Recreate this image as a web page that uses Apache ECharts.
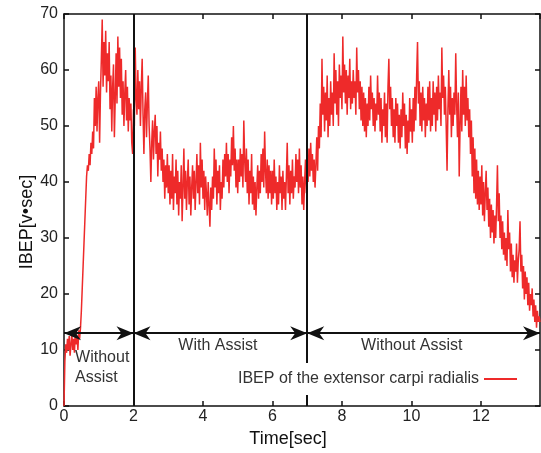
<!DOCTYPE html>
<html><head><meta charset="utf-8">
<script src="https://cdn.jsdelivr.net/npm/echarts@6/dist/echarts.min.js"></script>
<style>html,body{margin:0;padding:0;background:#fff}#c{width:541px;height:453px}</style>
</head><body><div id="c"></div>
<script>
const seriesName = 'IBEP of the extensor carpi radialis';
const xAxisName = 'Time[sec]';
const yAxisName = 'IBEP[v\u2022sec]';
const timeStep = 0.025; // seconds between samples
const ibep = [
  0, 8, 11, 9.5, 12, 10, 12.5, 9, 11, 13, 10, 12, 9.5, 13, 11, 12.5, 10, 13.5, 12, 14,
  17, 21, 25, 29, 33, 37, 41, 43, 42, 45, 43, 47, 45, 49, 46, 55, 50, 57, 49, 55,
  58, 47, 56, 62, 69, 57, 65, 59, 67, 56, 63, 58, 65, 53, 59, 49, 57, 61, 48, 55,
  63, 54, 66, 57, 64, 55, 62, 52, 58, 50, 56, 60, 51, 57, 49, 55, 51, 54, 47, 45,
  53, 50, 64, 55, 52, 60, 53, 58, 50, 57, 62, 52, 45, 53, 56, 48, 54, 59, 50, 46,
  40, 47, 51, 44, 49, 52, 45, 50, 41, 47, 44, 49, 42, 46, 40, 44, 37, 43, 39, 45,
  38, 43, 36, 42, 37, 45, 35, 41, 38, 44, 36, 42, 34, 40, 37, 43, 33, 39, 46, 37,
  42, 35, 40, 44, 36, 41, 34, 39, 43, 37, 42, 35, 40, 45, 38, 43, 36, 47, 39, 44,
  37, 42, 35, 41, 38, 34, 40, 36, 32, 39, 35, 41, 37, 46, 39, 44, 36, 42, 38, 43,
  35, 40, 37, 44, 39, 45, 41, 47, 40, 45, 38, 44, 41, 48, 43, 50, 42, 46, 39, 44,
  38, 44, 40, 46, 41, 45, 39, 51, 44, 40, 46, 38, 44, 36, 42, 38, 45, 36, 41, 35,
  40, 34, 39, 43, 37, 42, 38, 45, 40, 46, 39, 49, 42, 38, 44, 37, 43, 38, 42, 36,
  42, 37, 44, 38, 41, 35, 40, 36, 43, 38, 41, 35, 42, 37, 40, 35, 41, 47, 38, 43,
  36, 42, 38, 44, 37, 41, 39, 45, 40, 44, 38, 46, 39, 43, 36, 41, 35, 40, 44, 38,
  45, 40, 46, 41, 47, 42, 45, 40, 44, 39, 43, 48, 42, 50, 46, 54, 48, 62, 52, 57,
  49, 56, 51, 59, 48, 55, 50, 58, 52, 56, 50, 63, 54, 60, 52, 58, 50, 61, 55, 59,
  53, 66, 56, 61, 54, 60, 52, 59, 55, 62, 53, 58, 54, 60, 55, 58, 52, 64, 56, 60,
  53, 58, 51, 57, 50, 56, 49, 55, 48, 54, 50, 57, 51, 59, 53, 56, 50, 55, 49, 54,
  51, 59, 52, 56, 49, 55, 47, 53, 50, 56, 48, 54, 47, 57, 62, 53, 57, 50, 55, 48,
  53, 47, 55, 50, 54, 47, 52, 46, 53, 48, 56, 50, 54, 46, 52, 45, 51, 47, 55, 49,
  53, 47, 55, 49, 57, 51, 59, 65, 54, 58, 50, 56, 49, 57, 51, 55, 48, 54, 50, 57,
  51, 58, 49, 55, 50, 58, 52, 56, 49, 57, 51, 59, 53, 56, 50, 64, 55, 59, 52, 57,
  50, 42, 53, 60, 52, 57, 48, 55, 50, 56, 52, 63, 54, 48, 56, 41, 50, 57, 49, 60,
  52, 57, 50, 59, 51, 55, 48, 53, 45, 51, 41, 48, 38, 46, 37, 44, 36, 42, 35, 41,
  36, 43, 34, 40, 33, 38, 42, 35, 39, 32, 37, 30, 36, 31, 35, 29, 34, 30, 36, 43,
  33, 38, 30, 34, 28, 33, 27, 31, 26, 30, 25, 35, 28, 31, 24, 29, 23, 27, 22, 26,
  24, 29, 22, 26, 28, 33, 24, 27, 21, 25, 19, 24, 20, 23, 18, 22, 17, 20, 18, 21,
  16, 19, 15, 18, 14, 17, 15, 16, 15
];
const phaseBounds = [0, 2, 7, 13.7];
const phaseLabels = ['Without\nAssist', 'With Assist', 'Without Assist'];
const phaseLabelPos = [[0.32, 6.9], [4.43, 10.7], [10.01, 10.7]];
const arrowLevel = 13;
const xRange = [0, 13.7];
const yRange = [0, 70];

const FONT = "'Liberation Sans', Arial, sans-serif";
const points = ibep.map((v, i) => [+(i * timeStep).toFixed(3), v]);

// arrow head whose tip sits at the centre of its symbol box (body on one side only)
const ARROW_HEAD = 'path://M7,0 M7,17 L14,34 L7,29 L0,34 Z';

const arrowLines = [];
for (let i = 0; i < phaseBounds.length - 1; i++) {
  arrowLines.push([{ coord: [phaseBounds[i], arrowLevel] }, { coord: [phaseBounds[i + 1], arrowLevel] }]);
}
const labelPoints = phaseLabels.map((t, i) => ({
  coord: phaseLabelPos[i],
  symbolSize: 0,
  label: {
    show: true, formatter: t,
    position: i === 0 ? 'right' : 'inside',
    distance: 0,
    align: i === 0 ? 'left' : 'center',
    color: '#333', fontSize: 16, fontFamily: FONT, lineHeight: 20
  }
}));

const axisCommonX = {
  type: 'value', min: xRange[0], max: xRange[1], interval: 2,
  axisLine: { show: true, onZero: false, lineStyle: { color: '#111', width: 1.5 } },
  axisTick: { show: true, inside: true, length: 5, lineStyle: { color: '#111', width: 1.5 } },
  splitLine: { show: false }
};
const axisCommonY = {
  type: 'value', min: yRange[0], max: yRange[1], interval: 10,
  axisLine: { show: true, onZero: false, lineStyle: { color: '#111', width: 1.5 } },
  axisTick: { show: true, inside: true, length: 5, lineStyle: { color: '#111', width: 1.5 } },
  splitLine: { show: false }
};

const chart = echarts.init(document.getElementById('c'), null, { renderer: 'canvas' });
chart.setOption({
  animation: false,
  backgroundColor: '#fff',
  grid: { left: 64, right: 1, top: 14, bottom: 46 },
  xAxis: [
    Object.assign({}, axisCommonX, {
      position: 'bottom',
      name: xAxisName, nameLocation: 'middle', nameGap: 24, nameMoveOverlap: false,
      nameTextStyle: { fontSize: 18, color: '#111', fontFamily: FONT, padding: [0, 28, 0, 0] },
      axisLabel: { show: true, margin: 3, fontSize: 16, color: '#222', fontFamily: FONT, showMaxLabel: false }
    }),
    Object.assign({}, axisCommonX, { position: 'top', axisLabel: { show: false } })
  ],
  yAxis: [
    Object.assign({}, axisCommonY, {
      position: 'left',
      name: yAxisName, nameLocation: 'middle', nameGap: 28, nameMoveOverlap: false,
      nameTextStyle: { fontSize: 18, color: '#111', fontFamily: FONT, padding: [0, 24, 0, 0] },
      axisLabel: { show: true, margin: 6, fontSize: 16, color: '#222', fontFamily: FONT }
    }),
    Object.assign({}, axisCommonY, { position: 'right', axisLabel: { show: false } })
  ],
  legend: {
    data: [{ name: seriesName, icon: 'rect' }],
    right: 22, top: 363,
    align: 'right',
    itemWidth: 33, itemHeight: 2, itemGap: 5,
    padding: [8, 2, 8, 4],
    backgroundColor: '#fff',
    textStyle: { fontSize: 16, color: '#333', fontFamily: FONT, lineHeight: 16 },
    z: 10
  },
  series: [
    {
      name: seriesName, type: 'line', data: points,
      showSymbol: false, symbol: 'none',
      lineStyle: { color: '#ee2a2a', width: 1.5 },
      itemStyle: { color: '#ee2a2a' },
      z: 3,
      markLine: {
        silent: true, symbol: ['none', 'none'], animation: false,
        label: { show: false },
        lineStyle: { color: '#111', width: 2, type: 'solid' },
        data: [{ xAxis: phaseBounds[1] }, { xAxis: phaseBounds[2] }]
      }
    },
    {
      name: 'phases', type: 'line', data: [], z: 4,
      markLine: {
        silent: true, animation: false,
        symbol: [ARROW_HEAD, ARROW_HEAD], symbolSize: [14, 34],
        label: { show: false },
        lineStyle: { color: '#111', width: 2, type: 'solid' },
        itemStyle: { color: '#111' },
        data: arrowLines
      },
      markPoint: {
        silent: true, animation: false, symbol: 'circle', symbolSize: 0,
        data: labelPoints
      }
    }
  ]
});
</script></body></html>
